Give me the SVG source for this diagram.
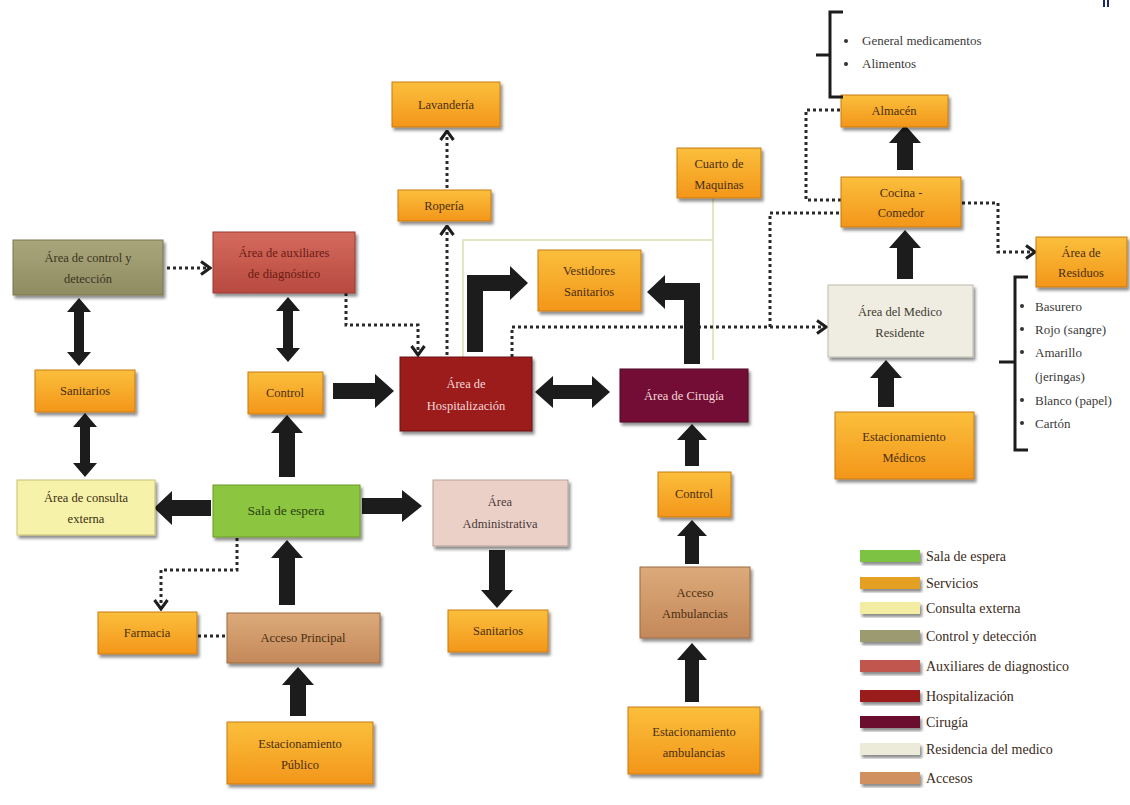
<svg xmlns="http://www.w3.org/2000/svg" width="1130" height="805" viewBox="0 0 1130 805">
<style>
text{font-family:"Liberation Serif","DejaVu Serif",serif;font-size:12.5px;text-anchor:middle;fill:#4a2e10}
.lg{text-anchor:start;font-size:14px;fill:#3a2a1a}
.li{text-anchor:start;font-size:13px;fill:#3a3a3a}
.bul{fill:#333}
.blk{fill:#1c1c1c}
.dot{fill:none;stroke:#2a2a2a;stroke-width:3;stroke-dasharray:3 3}
.pale{fill:none;stroke:#e4e6c6;stroke-width:2}
.brk{fill:none;stroke:#1c1c1c;stroke-width:3}
.box{filter:url(#sh);stroke-width:1}
.or{fill:url(#gOr);stroke:#c87a10}
.ol{fill:url(#gOl);stroke:#7a7650}
.ax{fill:url(#gAx);stroke:#9a3a30}
.hp{fill:#9c1a1f;stroke:#6a0e12}
.cr{fill:#731034;stroke:#4a0a20}
.mr{fill:#efede2;stroke:#bdbbae}
.ce{fill:#f7f2aa;stroke:#c8c070}
.se{fill:#8cc63f;stroke:#6a9a2a}
.ad{fill:#ebd0c8;stroke:#b8a098}
.ac{fill:url(#gAc);stroke:#9a6a40}
.wt{fill:#f3d8d8}
</style>
<defs>
<filter id="sh" x="-10%" y="-10%" width="125%" height="140%">
<feDropShadow dx="2" dy="3" stdDeviation="1.5" flood-color="#000" flood-opacity="0.45"/>
</filter>
<linearGradient id="gOr" x1="0" y1="0" x2="0" y2="1"><stop offset="0" stop-color="#fbbf3c"/><stop offset="1" stop-color="#f3961a"/></linearGradient>
<linearGradient id="gOl" x1="0" y1="0" x2="0" y2="1"><stop offset="0" stop-color="#aaa67c"/><stop offset="1" stop-color="#908c62"/></linearGradient>
<linearGradient id="gAx" x1="0" y1="0" x2="0" y2="1"><stop offset="0" stop-color="#d46a5e"/><stop offset="1" stop-color="#b84a40"/></linearGradient>
<linearGradient id="gAc" x1="0" y1="0" x2="0" y2="1"><stop offset="0" stop-color="#dcaa7a"/><stop offset="1" stop-color="#c4885a"/></linearGradient>
<marker id="chev" viewBox="0 0 12 16" refX="10.5" refY="8" markerWidth="12" markerHeight="16" orient="auto" markerUnits="userSpaceOnUse">
<path d="M1.5,1.5 L10.5,8 L1.5,14.5" fill="none" stroke="#1e1e1e" stroke-width="3"/>
</marker>
</defs>
<rect width="1130" height="805" fill="#ffffff"/>
<rect x="1103" y="0" width="2" height="7" fill="#1a2a6a"/>
<rect x="1107" y="0" width="2" height="7" fill="#1a2a6a"/>

<g id="connectors">
<path class="pale" d="M463,357 L463,240 L713,240"/>
<path class="pale" d="M713,198 L713,360"/>
<!-- dotted -->
<path class="dot" d="M167,268 L210,268" marker-end="url(#chev)"/>
<path class="dot" d="M346,293 L346,325 L418,325 L418,355" marker-end="url(#chev)"/>
<path class="dot" d="M447,355 L447,226" marker-end="url(#chev)"/>
<path class="dot" d="M447,188 L447,131" marker-end="url(#chev)"/>
<path class="dot" d="M512,357 L512,327 L826,327" marker-end="url(#chev)"/>
<path class="dot" d="M770,327 L770,213 L841,213"/>
<path class="dot" d="M841,200 L806,200 L806,110 L841,110"/>
<path class="dot" d="M962,203 L998,203 L998,252 L1035,252" marker-end="url(#chev)"/>
<path class="dot" d="M237,532 L237,570 L161,570 L161,609" marker-end="url(#chev)"/>
<path class="dot" d="M198,636 L226,636"/>
<!-- block arrows -->
<path class="blk" d="M279,477 L279,433 L271,433 L287,415 L303,433 L295,433 L295,477 Z"/>
<path class="blk" d="M279,605 L279,558 L271,558 L287,540 L303,558 L295,558 L295,605 Z"/>
<path class="blk" d="M290,716 L290,685 L282,685 L298,667 L314,685 L306,685 L306,716 Z"/>
<path class="blk" d="M489,550 L489,590 L481,590 L497,608 L513,590 L505,590 L505,550 Z"/>
<path class="blk" d="M685,466 L685,440 L677,440 L692,424 L707,440 L699,440 L699,466 Z"/>
<path class="blk" d="M685,564 L685,536 L677,536 L692,520 L707,536 L699,536 L699,564 Z"/>
<path class="blk" d="M685,702 L685,660 L677,660 L692,643 L707,660 L699,660 L699,702 Z"/>
<path class="blk" d="M878,407 L878,378 L870,378 L886,360 L902,378 L894,378 L894,407 Z"/>
<path class="blk" d="M897,279 L897,248 L889,248 L905,230 L921,248 L913,248 L913,279 Z"/>
<path class="blk" d="M897,170 L897,143 L889,143 L905,125 L921,143 L913,143 L913,170 Z"/>
<path class="blk" d="M333,383 L375,383 L375,374 L394,391 L375,408 L375,399 L333,399 Z"/>
<path class="blk" d="M211,500 L172,500 L172,491 L154,508 L172,525 L172,516 L211,516 Z"/>
<path class="blk" d="M362,498 L402,498 L402,490 L422,506 L402,522 L402,514 L362,514 Z"/>
<path class="blk" d="M535,392 L553,376 L553,385 L592,385 L592,376 L610,392 L592,408 L592,399 L553,399 L553,408 Z"/>
<path class="blk" d="M79,298 L91,312 L84,312 L84,352 L91,352 L79,366 L67,352 L74,352 L74,312 L67,312 Z"/>
<path class="blk" d="M85,413 L97,427 L90,427 L90,463 L97,463 L85,477 L73,463 L80,463 L80,427 L73,427 Z"/>
<path class="blk" d="M288,297 L300,311 L293,311 L293,348 L300,348 L288,362 L276,348 L283,348 L283,311 L276,311 Z"/>
<path class="blk" d="M467,352 L467,275 L510,275 L510,266 L528,283 L510,300 L510,291 L483,291 L483,352 Z"/>
<path class="blk" d="M700,364 L700,283 L665,283 L665,275 L647,292 L665,309 L665,300 L684,300 L684,364 Z"/>
</g>

<g id="n-lavanderia"><rect class="box or" x="392" y="82" width="108" height="45"/><text x="446" y="109">Lavandería</text></g>
<g id="n-roperia"><rect class="box or" x="398" y="190" width="93" height="31"/><text x="444" y="210">Ropería</text></g>
<g id="n-cuarto"><rect class="box or" x="677" y="148" width="84" height="50"/><text x="719" y="168">Cuarto de</text><text x="719" y="189">Maquinas</text></g>
<g id="n-almacen"><rect class="box or" x="841" y="95" width="107" height="32"/><text x="894" y="115">Almacén</text></g>
<g id="n-cocina"><rect class="box or" x="841" y="177" width="120" height="50"/><text x="901" y="197">Cocina -</text><text x="901" y="217">Comedor</text></g>
<g id="n-residuos"><rect class="box or" x="1036" y="237" width="91" height="50"/><text x="1081" y="257">Área de</text><text x="1081" y="277">Residuos</text></g>
<g id="n-control-deteccion"><rect class="box ol" x="13" y="240" width="150" height="55"/><text x="88" y="262" style="fill:#3a3520">Área de control y</text><text x="88" y="283" style="fill:#3a3520">detección</text></g>
<g id="n-auxiliares"><rect class="box ax" x="213" y="232" width="142" height="61"/><text x="284" y="257" style="fill:#6a1a10">Área de auxiliares</text><text x="284" y="278" style="fill:#6a1a10">de diagnóstico</text></g>
<g id="n-vestidores"><rect class="box or" x="538" y="250" width="103" height="61"/><text x="589" y="275">Vestidores</text><text x="589" y="296">Sanitarios</text></g>
<g id="n-medico-residente"><rect class="box mr" x="828" y="285" width="145" height="72"/><text x="900" y="316" style="fill:#403a30">Área del Medico</text><text x="900" y="337" style="fill:#403a30">Residente</text></g>
<g id="n-sanitarios-izq"><rect class="box or" x="35" y="370" width="100" height="42"/><text x="85" y="395">Sanitarios</text></g>
<g id="n-control-izq"><rect class="box or" x="248" y="372" width="75" height="42"/><text x="285" y="397">Control</text></g>
<g id="n-hospitalizacion"><rect class="box hp" x="400" y="357" width="132" height="74"/><text class="wt" x="466" y="388">Área de</text><text class="wt" x="466" y="410">Hospitalización</text></g>
<g id="n-cirugia"><rect class="box cr" x="620" y="369" width="128" height="53"/><text class="wt" x="684" y="400">Área de Cirugía</text></g>
<g id="n-est-medicos"><rect class="box or" x="835" y="412" width="139" height="67"/><text x="904" y="441">Estacionamiento</text><text x="904" y="462">Médicos</text></g>
<g id="n-consulta"><rect class="box ce" x="17" y="480" width="138" height="55"/><text x="86" y="502" style="fill:#3a3010">Área  de consulta</text><text x="86" y="523" style="fill:#3a3010">externa</text></g>
<g id="n-sala-espera"><rect class="box se" x="213" y="485" width="147" height="52"/><text x="286" y="515" style="fill:#2a4010;font-size:13.5px">Sala de espera</text></g>
<g id="n-administrativa"><rect class="box ad" x="433" y="480" width="135" height="66"/><text x="500" y="506" style="fill:#4a3a38">Área</text><text x="500" y="528" style="fill:#4a3a38">Administrativa</text></g>
<g id="n-control-der"><rect class="box or" x="658" y="472" width="73" height="45"/><text x="694" y="498">Control</text></g>
<g id="n-farmacia"><rect class="box or" x="98" y="612" width="99" height="42"/><text x="147" y="637">Farmacia</text></g>
<g id="n-acceso-principal"><rect class="box ac" x="227" y="613" width="153" height="50"/><text x="303" y="642">Acceso Principal</text></g>
<g id="n-sanitarios-inf"><rect class="box or" x="448" y="610" width="100" height="42"/><text x="498" y="635">Sanitarios</text></g>
<g id="n-acceso-ambulancias"><rect class="box ac" x="640" y="567" width="110" height="71"/><text x="695" y="597">Acceso</text><text x="695" y="618">Ambulancias</text></g>
<g id="n-est-publico"><rect class="box or" x="227" y="722" width="146" height="62"/><text x="300" y="748">Estacionamiento</text><text x="300" y="769">Público</text></g>
<g id="n-est-ambulancias"><rect class="box or" x="628" y="707" width="132" height="67"/><text x="694" y="736">Estacionamiento</text><text x="694" y="757">ambulancias</text></g>

<g id="lista-almacen">
<path class="brk" d="M843,12 L830,12 L830,97 L843,97 M830,55 L816,55"/>
<circle class="bul" cx="846" cy="41" r="2"/><text class="li" x="862" y="45">General medicamentos</text>
<circle class="bul" cx="846" cy="64" r="2"/><text class="li" x="862" y="68">Alimentos</text>
</g>
<g id="lista-residuos">
<path class="brk" d="M1028,277 L1015,277 L1015,450 L1028,450 M1015,362 L999,362"/>
<circle class="bul" cx="1022" cy="306" r="2"/><text class="li" x="1035" y="311">Basurero</text>
<circle class="bul" cx="1022" cy="329" r="2"/><text class="li" x="1035" y="334">Rojo (sangre)</text>
<circle class="bul" cx="1022" cy="352" r="2"/><text class="li" x="1035" y="357">Amarillo</text>
<text class="li" x="1035" y="381">(jeringas)</text>
<circle class="bul" cx="1022" cy="400" r="2"/><text class="li" x="1035" y="405">Blanco (papel)</text>
<circle class="bul" cx="1022" cy="423" r="2"/><text class="li" x="1035" y="428">Cartón</text>
</g>

<g id="leyenda">
<rect class="box" x="860" y="550" width="60" height="12" fill="#7dc242"/><text class="lg" x="926" y="561">Sala de espera</text>
<rect class="box" x="860" y="577" width="60" height="12" fill="#e3a024"/><text class="lg" x="926" y="588">Servicios</text>
<rect class="box" x="860" y="602" width="60" height="12" fill="#f3eda4"/><text class="lg" x="926" y="613">Consulta externa</text>
<rect class="box" x="860" y="630" width="60" height="12" fill="#9c9a70"/><text class="lg" x="926" y="641">Control y detección</text>
<rect class="box" x="860" y="660" width="60" height="12" fill="#c0574d"/><text class="lg" x="926" y="671">Auxiliares de diagnostico</text>
<rect class="box" x="860" y="690" width="60" height="12" fill="#9b1b1e"/><text class="lg" x="926" y="701">Hospitalización</text>
<rect class="box" x="860" y="716" width="60" height="12" fill="#6b0f2e"/><text class="lg" x="926" y="727">Cirugía</text>
<rect class="box" x="860" y="743" width="60" height="12" fill="#ecead8"/><text class="lg" x="926" y="754">Residencia del medico</text>
<rect class="box" x="860" y="772" width="60" height="12" fill="#d09060"/><text class="lg" x="926" y="783">Accesos</text>
</g>
</svg>
